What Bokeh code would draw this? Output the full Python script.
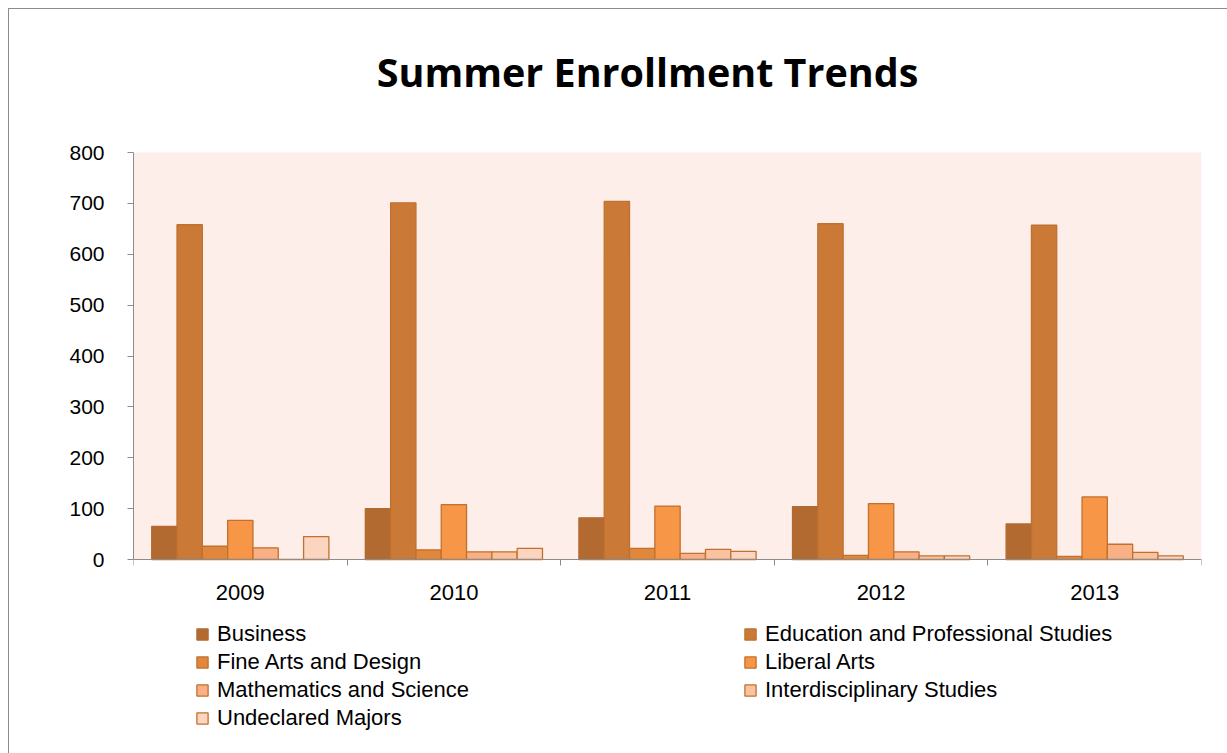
from bokeh.plotting import figure
from bokeh.models import (ColumnDataSource, Range1d, FixedTicker, Legend, LegendItem,
                          BoxAnnotation, LinearAxis, Label)
from bokeh.embed import file_html
from bokeh.resources import INLINE

years = ["2009", "2010", "2011", "2012", "2013"]
series_names = ["Business", "Education and Professional Studies", "Fine Arts and Design",
                "Liberal Arts", "Mathematics and Science", "Interdisciplinary Studies",
                "Undeclared Majors"]
business = [65, 100, 82, 104, 70]
education = [658, 701, 704, 660, 657]
fine_arts = [26, 19, 22, 8, 6]
liberal_arts = [77, 108, 105, 110, 123]
math_science = [23, 15, 12, 15, 30]
interdisciplinary = [0, 15, 20, 7, 14]
undeclared = [45, 22, 16, 7, 7]
all_series = [business, education, fine_arts, liberal_arts, math_science,
              interdisciplinary, undeclared]
colors = ["#B26A30", "#CB7937", "#E0873C", "#F79646", "#F9B084", "#FAC29F", "#FCD5C0"]
edge = "#C0712F"
y_ticks = [0, 100, 200, 300, 400, 500, 600, 700, 800]
title_text = "Summer Enrollment Trends"

FONT = "Liberation Sans"
YMAX = 800
PX = 407.0 / YMAX          # pixels per unit of the value axis
FRAME_TOP_GAP = 143        # pixels between the frame top and the 800 line
FRAME_BOTTOM_GAP = 594     # pixels between the 800 line and the frame bottom
Y_HI = YMAX + FRAME_TOP_GAP / PX
Y_LO = YMAX - FRAME_BOTTOM_GAP / PX
XPX = (1200 - 132) / len(years)   # pixels per category

p = figure(width=1219, height=745, output_backend="svg", toolbar_location=None,
           x_range=Range1d(0, len(years)), y_range=Range1d(Y_LO, Y_HI),
           x_axis_location=None,
           min_border_left=124, min_border_right=27, min_border_top=0,
           min_border_bottom=8, background_fill_color="white",
           border_fill_color="white", outline_line_color=None,
           margin=(8, 0, 0, 8),
           styles={"border-left": "1px solid #8C8C8C", "border-top": "1px solid #8C8C8C"})

p.add_layout(Label(x=(646 - 132) / XPX, y=YMAX + (153 - 88 + 16) / PX, text=title_text,
                   text_font="Open Sans", text_font_size="39.5px", text_font_style="bold",
                   text_color="black", text_align="center", text_baseline="alphabetic"))

p.add_layout(BoxAnnotation(left=0, right=len(years), bottom=0, top=YMAX,
                           fill_color="#FDEEE9", fill_alpha=1, line_color=None,
                           level="underlay"))

bw = 0.1185
n = len(all_series)
renderers = []
for i, (vals, col) in enumerate(zip(all_series, colors)):
    xs = [k + 0.5 + (i - (n - 1) / 2) * bw for k in range(len(years))]
    src = ColumnDataSource(dict(x=xs, top=vals))
    r = p.vbar(x="x", top="top", bottom=0, width=bw, source=src, fill_color=col,
               line_color=edge if i > 0 else col, line_width=1.3)
    renderers.append(r)

p.xgrid.visible = False
p.ygrid.visible = False

xa = LinearAxis(fixed_location=0)
xa.ticker = FixedTicker(ticks=[k + 0.5 for k in range(len(years))],
                        minor_ticks=list(range(len(years) + 1)))
xa.major_label_overrides = {k + 0.5: y for k, y in enumerate(years)}
xa.major_tick_line_color = None
xa.minor_tick_out = 6
xa.minor_tick_in = 0
xa.minor_tick_line_color = "#8C8C8C"
xa.axis_line_color = "#8C8C8C"
xa.major_label_text_font = FONT
xa.major_label_text_font_size = "22px"
xa.major_label_text_color = "black"
xa.major_label_standoff = 19
p.add_layout(xa, "below")

ya = p.yaxis[0]
ya.ticker = FixedTicker(ticks=y_ticks, minor_ticks=[])
ya.bounds = (0, YMAX)
ya.major_tick_out = 6
ya.major_tick_in = 0
ya.major_tick_line_color = "#8C8C8C"
ya.axis_line_color = "#8C8C8C"
ya.major_label_text_font = FONT
ya.major_label_text_font_size = "21px"
ya.major_label_text_color = "black"
ya.major_label_standoff = 23

# legend laid out column-major: reorder so it reads row by row like the reference
order = [0, 2, 4, 6, 1, 3, 5]
items = [LegendItem(label=series_names[k], renderers=[renderers[k]]) for k in order]
legend = Legend(items=items, location=(62, 14), ncols=2, glyph_width=14, glyph_height=14,
                label_text_font=FONT, label_text_font_size="22px", label_text_color="black",
                label_standoff=8, label_width=526, label_height=28, spacing=0, padding=0,
                background_fill_alpha=0, border_line_color=None, margin=0)
p.add_layout(legend, "center")

open("out.html", "w").write(file_html(p, INLINE))
